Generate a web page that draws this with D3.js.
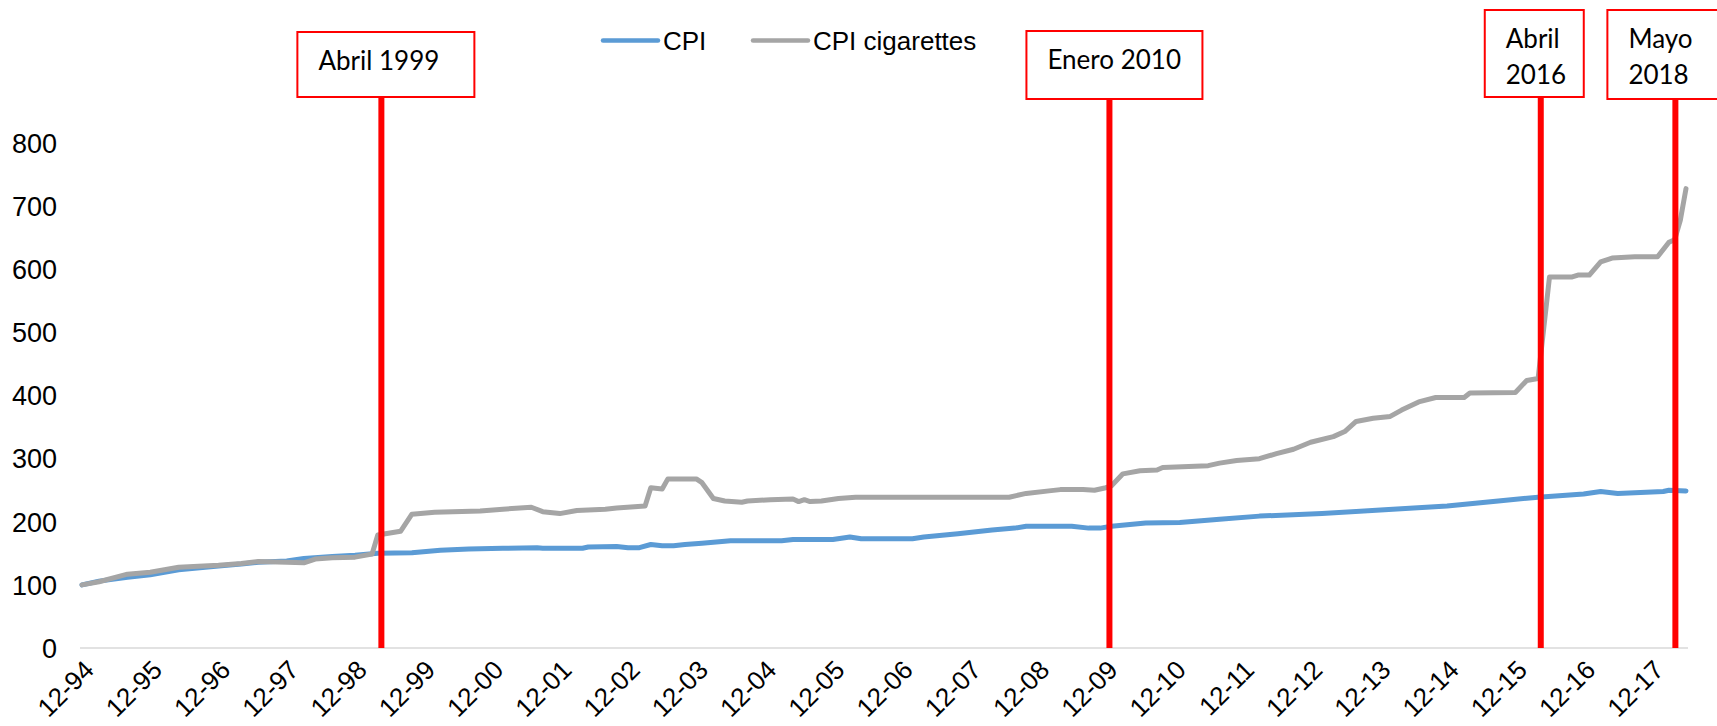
<!DOCTYPE html>
<html>
<head>
<meta charset="utf-8">
<script src="https://cdn.jsdelivr.net/npm/d3@7"></script>
<style>
  html, body { margin: 0; padding: 0; background: #fff; }
  svg { display: block; }
</style>
</head>
<body>
<div id="chart"></div>
<script>
// CPI series (index, 12-94 = 100) at its break points
const cpiDates = ["1994-12","1995-03","1995-08","1995-12","1996-05","1996-12","1997-04","1997-07","1997-12",
  "1998-03","1998-08","1998-12","1999-04","1999-10","2000-03","2000-08","2001-02","2001-08","2001-09","2002-04",
  "2002-05","2002-10","2002-12","2003-02","2003-04","2003-06","2003-08","2003-10","2004-01","2004-06","2005-03",
  "2005-05","2005-12","2006-03","2006-05","2007-02","2007-04","2007-10","2008-04","2008-08","2008-10","2009-06",
  "2009-09","2009-11","2010-01","2010-07","2011-01","2011-08","2012-03","2013-02","2014-01","2014-12","2015-09",
  "2016-04","2016-12","2017-03","2017-06","2018-02","2018-03","2018-06"];
const cpiValues = [100,106,112,116,124,130,133,136,138,
  142,145,147,150,151,155,157,158,159,158,158,
  160,161,159,159,164,162,162,164,166,170,170,
  172,172,176,173,173,176,181,187,190,193,193,
  190,190,193,198,199,204,209,213,219,225,233,
  239,244,248,245,248,250,249];

// CPI cigarettes series
const cigDates = ["1994-12","1995-03","1995-08","1995-12","1996-05","1996-12","1997-04","1997-07","1997-12",
  "1998-03","1998-05","1998-08","1998-12","1999-03","1999-04","1999-08","1999-10","2000-02","2000-10","2001-02",
  "2001-07","2001-09","2001-12","2002-03","2002-08","2002-10","2003-03","2003-04","2003-06","2003-07","2003-12",
  "2004-01","2004-03","2004-05","2004-08","2004-09","2005-01","2005-05","2005-06","2005-07","2005-08","2005-10",
  "2006-01","2006-04","2008-07","2008-10","2009-02","2009-04","2009-08","2009-10","2009-12","2010-01","2010-03",
  "2010-06","2010-09","2010-10","2011-06","2011-08","2011-11","2012-03","2012-06","2012-09","2012-12","2013-04",
  "2013-06","2013-08","2013-11","2014-02","2014-04","2014-07","2014-10","2015-03","2015-04","2015-12","2016-02",
  "2016-04","2016-06","2016-10","2016-11","2017-01","2017-03","2017-05","2017-09","2018-01","2018-03","2018-04",
  "2018-05","2018-06"];
const cigValues = [100,105,117,120,128,131,134,137,136,
  135,141,143,144,149,179,185,212,215,217,220,
  223,216,213,218,220,222,225,254,252,268,268,
  262,237,233,231,233,235,236,232,235,232,233,
  237,239,239,245,249,251,251,250,254,257,276,
  281,282,286,289,293,297,300,308,315,326,335,
  343,359,364,367,377,390,397,397,404,405,424,
  427,588,588,591,591,612,618,620,620,643,647,
  678,728];

const yTicks = [0, 100, 200, 300, 400, 500, 600, 700, 800];
const xTickDates = ["1994-12","1995-12","1996-12","1997-12","1998-12","1999-12","2000-12","2001-12",
  "2002-12","2003-12","2004-12","2005-12","2006-12","2007-12","2008-12","2009-12","2010-12","2011-12",
  "2012-12","2013-12","2014-12","2015-12","2016-12","2017-12"];

// event markers (red lines + boxes)
const eventDates = ["1999-04-20", "2009-12-20", "2016-04-15", "2018-04-05"];
const eventLabels = [["Abril 1999"], ["Enero 2010"], ["Abril", "2016"], ["Mayo", "2018"]];

const seriesNames = ["CPI", "CPI cigarettes"];
const seriesColors = ["#5B9BD5", "#A5A5A5"];

const width = 1717, height = 726;
const axisFont = "'Liberation Sans', Arial, sans-serif";
const boxFont = "Lato, 'Open Sans', sans-serif";

// month index from Dec 1994, fractional day allowed
function monthIndex(s) {
  const p = s.split("-").map(Number);
  let m = (p[0] - 1994) * 12 + (p[1] - 12);
  if (p.length > 2) m += (p[2] - 1) / 30;
  return m;
}

const svg = d3.select("#chart").append("svg")
  .attr("width", width)
  .attr("height", height);

const x = d3.scaleLinear().domain([0, 282]).range([82, 1686]);
const y = d3.scaleLinear().domain([0, 800]).range([648, 143.2]);

// y labels
svg.append("g")
  .selectAll("text")
  .data(yTicks)
  .join("text")
  .attr("x", 57)
  .attr("y", d => y(d))
  .attr("dy", "0.36em")
  .attr("text-anchor", "end")
  .attr("font-family", axisFont)
  .attr("font-size", 27)
  .attr("fill", "#000")
  .text(d => d);

// baseline
svg.append("line")
  .attr("x1", 80).attr("x2", 1688)
  .attr("y1", y(0)).attr("y2", y(0))
  .attr("stroke", "#D9D9D9")
  .attr("stroke-width", 1.5);

// x labels, rotated
svg.append("g")
  .selectAll("text")
  .data(xTickDates)
  .join("text")
  .attr("transform", d => `translate(${x(monthIndex(d)) + 7},665) rotate(-45)`)
  .attr("dy", "0.35em")
  .attr("text-anchor", "end")
  .attr("font-family", axisFont)
  .attr("font-size", 26)
  .attr("fill", "#000")
  .text(d => d.slice(5) + "-" + d.slice(2, 4));

// lines
const line = d3.line()
  .x(d => x(monthIndex(d[0])))
  .y(d => y(d[1]));

const series = [
  d3.zip(cpiDates, cpiValues),
  d3.zip(cigDates, cigValues)
];

series.forEach((s, i) => {
  svg.append("path")
    .datum(s)
    .attr("fill", "none")
    .attr("stroke", seriesColors[i])
    .attr("stroke-width", 5)
    .attr("stroke-linejoin", "round")
    .attr("stroke-linecap", "round")
    .attr("d", line);
});

// legend
const legendX = [603, 753];
seriesNames.forEach((name, i) => {
  const g = svg.append("g");
  g.append("line")
    .attr("x1", legendX[i]).attr("x2", legendX[i] + 55)
    .attr("y1", 40.5).attr("y2", 40.5)
    .attr("stroke", seriesColors[i])
    .attr("stroke-width", 4.5)
    .attr("stroke-linecap", "round");
  g.append("text")
    .attr("x", legendX[i] + 60)
    .attr("y", 41)
    .attr("dy", "0.36em")
    .attr("font-family", axisFont)
    .attr("font-size", 26)
    .attr("fill", "#000")
    .text(name);
});

// event boxes: left offset from line, width, top, bottom
const boxLayout = [
  { dx: -84, w: 177, top: 32, bottom: 97 },
  { dx: -83, w: 176, top: 31, bottom: 99 },
  { dx: -56, w: 99, top: 10, bottom: 97 },
  { dx: -68, w: 120, top: 10, bottom: 99 }
];

eventDates.forEach((d, i) => {
  const ex = x(monthIndex(d));
  const b = boxLayout[i];
  svg.append("line")
    .attr("x1", ex).attr("x2", ex)
    .attr("y1", b.bottom).attr("y2", y(0))
    .attr("stroke", "#FF0000")
    .attr("stroke-width", 6);
  svg.append("rect")
    .attr("x", ex + b.dx)
    .attr("y", b.top)
    .attr("width", b.w)
    .attr("height", b.bottom - b.top)
    .attr("fill", "#fff")
    .attr("stroke", "#FF0000")
    .attr("stroke-width", 2);
  const t = svg.append("text")
    .attr("font-family", boxFont)
    .attr("font-size", 26)
    .attr("fill", "#000");
  eventLabels[i].forEach((s, j) => {
    t.append("tspan")
      .attr("x", ex + b.dx + 21)
      .attr("y", b.top + 38 + j * 36)
      .text(s);
  });
});
</script>
</body>
</html>
